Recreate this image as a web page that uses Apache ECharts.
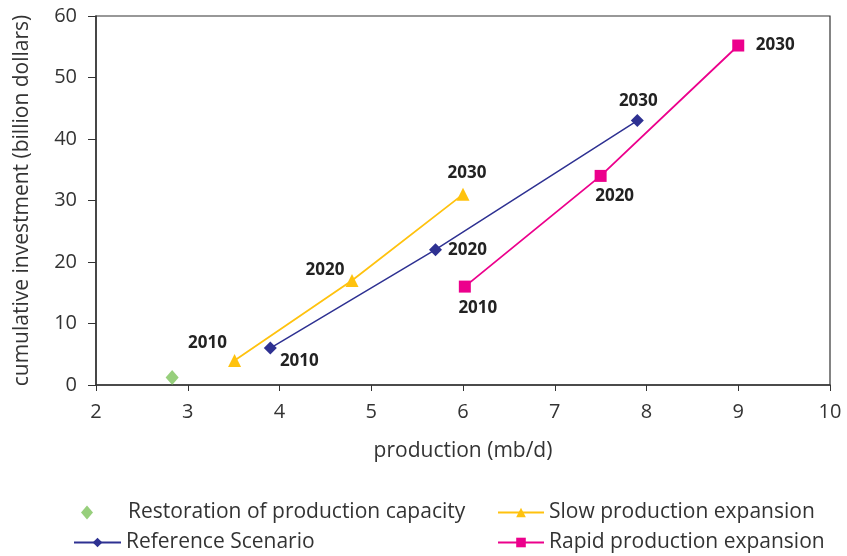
<!DOCTYPE html>
<html>
<head>
<meta charset="utf-8">
<script src="https://cdn.jsdelivr.net/npm/echarts@6/dist/echarts.min.js"></script>
<style>
  html, body { margin: 0; padding: 0; background: #fff; }
  #chart { width: 847px; height: 556px; }
</style>
</head>
<body>
<div id="chart"></div>
<script>
// Production (mb/d) vs cumulative investment (billion dollars) by scenario
const years = ['2010', '2020', '2030'];

const restorationX = [2.83];
const restorationY = [1.2];

const slowX = [3.51, 4.79, 6.0];
const slowY = [4.0, 17.0, 31.0];

const referenceX = [3.9, 5.7, 7.9];
const referenceY = [6.0, 22.0, 43.0];

const rapidX = [6.02, 7.5, 9.0];
const rapidY = [16.0, 34.0, 55.2];

const xTicks = [2, 3, 4, 5, 6, 7, 8, 9, 10];
const yTicks = [0, 10, 20, 30, 40, 50, 60];

const FONT = 'Open Sans';
const TEXT = '#333';

// year label placement for each point of each scenario
const slowLabelPos = [[-27, -17], [-27, -10], [4, -21]];
const referenceLabelPos = [[29, 13], [32, 0], [1, -19]];
const rapidLabelPos = [[13, 22], [14, 20], [37, 0]];

function points(xs, ys, offsets) {
  return xs.map((x, i) => ({
    value: [x, ys[i]],
    label: offsets ? {
      show: true,
      formatter: years[i],
      position: 'inside',
      offset: offsets[i]
    } : { show: false }
  }));
}

const yearLabel = {
  fontFamily: FONT,
  fontWeight: 'bold',
  fontSize: 17,
  color: '#222'
};

const chart = echarts.init(document.getElementById('chart'));

const legendBase = {
  orient: 'horizontal',
  padding: 0,
  itemHeight: 12,
  textStyle: { fontFamily: FONT, fontSize: 21, color: TEXT },
  selectedMode: false
};

chart.setOption({
  animation: false,
  grid: {
    left: 96, right: 17, top: 16, bottom: 171,
    show: true, borderColor: '#333', borderWidth: 1.2
  },
  xAxis: {
    type: 'value',
    min: xTicks[0], max: xTicks[xTicks.length - 1], interval: 1,
    name: 'production (mb/d)',
    nameLocation: 'middle',
    nameGap: 56,
    nameTextStyle: { fontFamily: FONT, fontSize: 21, color: TEXT },
    axisLine: { show: true, lineStyle: { color: '#333', width: 1.5 } },
    axisTick: { show: true, inside: false, length: 6, lineStyle: { color: '#333' } },
    axisLabel: { margin: 17, fontFamily: FONT, fontSize: 20, color: TEXT },
    splitLine: { show: false }
  },
  yAxis: {
    type: 'value',
    min: yTicks[0], max: yTicks[yTicks.length - 1], interval: 10,
    name: 'cumulative investment (billion dollars)',
    nameLocation: 'middle',
    nameGap: 63,
    nameTextStyle: { fontFamily: FONT, fontSize: 21, color: TEXT },
    axisLine: { show: true, lineStyle: { color: '#333', width: 1.5 } },
    axisTick: { show: true, inside: false, length: 8, lineStyle: { color: '#333' } },
    axisLabel: { margin: 19, fontFamily: FONT, fontSize: 20, color: TEXT },
    splitLine: { show: false }
  },
  legend: [
    Object.assign({}, legendBase, {
      left: 81, top: 502, itemWidth: 12, itemHeight: 14,
      textStyle: Object.assign({}, legendBase.textStyle, { padding: [0, 0, 0, 30] }),
      data: ['Restoration of production capacity']
    }),
    Object.assign({}, legendBase, {
      left: 497, top: 502, itemWidth: 46,
      data: ['Slow production expansion']
    }),
    Object.assign({}, legendBase, {
      left: 73, top: 532, itemWidth: 47,
      data: ['Reference Scenario']
    }),
    Object.assign({}, legendBase, {
      left: 497, top: 532, itemWidth: 46,
      data: ['Rapid production expansion']
    })
  ],
  series: [
    {
      name: 'Restoration of production capacity',
      type: 'scatter',
      symbol: 'diamond',
      symbolSize: [13, 15],
      itemStyle: { color: '#7dc35b' },
      data: points(restorationX, restorationY, null)
    },
    {
      name: 'Slow production expansion',
      type: 'line',
      symbol: 'triangle',
      symbolSize: 13,
      lineStyle: { color: '#ffc20e', width: 1.8 },
      itemStyle: { color: '#ffc20e' },
      label: yearLabel,
      data: points(slowX, slowY, slowLabelPos)
    },
    {
      name: 'Reference Scenario',
      type: 'line',
      symbol: 'diamond',
      symbolSize: 13,
      lineStyle: { color: '#2e3192', width: 1.5 },
      itemStyle: { color: '#2e3192' },
      label: yearLabel,
      data: points(referenceX, referenceY, referenceLabelPos)
    },
    {
      name: 'Rapid production expansion',
      type: 'line',
      symbol: 'rect',
      symbolSize: 12,
      lineStyle: { color: '#ec008c', width: 1.8 },
      itemStyle: { color: '#ec008c' },
      label: yearLabel,
      data: points(rapidX, rapidY, rapidLabelPos)
    }
  ]
});
</script>
</body>
</html>
